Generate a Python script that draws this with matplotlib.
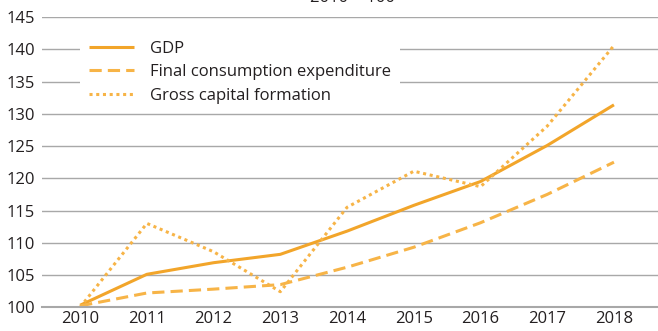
import matplotlib.pyplot as plt

years = [2010, 2011, 2012, 2013, 2014, 2015, 2016, 2017, 2018]
gdp = [100.3, 105.1, 106.9, 108.2, 111.8, 115.8, 119.5, 125.1, 131.4]
final_consumption = [100.2, 102.2, 102.8, 103.5, 106.2, 109.3, 113.1, 117.5, 122.5]
gross_capital = [100.0, 113.0, 108.6, 102.4, 115.5, 121.1, 118.7, 128.1, 140.6]

orange = '#f2a52a'
orange_light = '#f7b447'

plt.rcParams['font.family'] = ['Open Sans', 'DejaVu Sans']

fig = plt.figure(figsize=(6.58, 3.31), dpi=100)
ax = fig.add_axes([0.064, 0.072, 0.936, 0.876])

ax.plot(years, gdp, color=orange, lw=2.2, label='GDP', solid_capstyle='butt')
ax.plot(years, final_consumption, color=orange_light, lw=2.2, dashes=(4, 2),
        label='Final consumption expenditure')
ax.plot(years, gross_capital, color=orange_light, lw=2.2, dashes=(1, 1.2),
        label='Gross capital formation')

ax.set_xlim(2009.43, 2018.66)
ax.set_ylim(100, 145)
ax.set_yticks(range(100, 146, 5))
ax.set_xticks(years)
ax.grid(axis='y', color='#a8a8a8', lw=1)
ax.set_axisbelow(True)
for s in ['top', 'right', 'left']:
    ax.spines[s].set_visible(False)
ax.spines['bottom'].set_color('#a8a8a8')
ax.spines['bottom'].set_linewidth(1.5)
ax.tick_params(length=0, labelsize=12, colors='#231f20', pad=3)
ax.tick_params(axis='y', pad=5)

leg = ax.legend(loc='upper left', bbox_to_anchor=(0.062, 0.948), frameon=True,
                fancybox=False, edgecolor='none', facecolor='white', framealpha=1,
                fontsize=12, handlelength=2.7, handletextpad=1.0, labelspacing=0.45,
                borderpad=0.5, borderaxespad=0)
for t in leg.get_texts():
    t.set_color('#231f20')

fig.text(0.535, 0.993, '2010 = 100', ha='center', va='baseline', fontsize=12,
         color='#231f20')

fig.savefig('out.png', dpi=100)
